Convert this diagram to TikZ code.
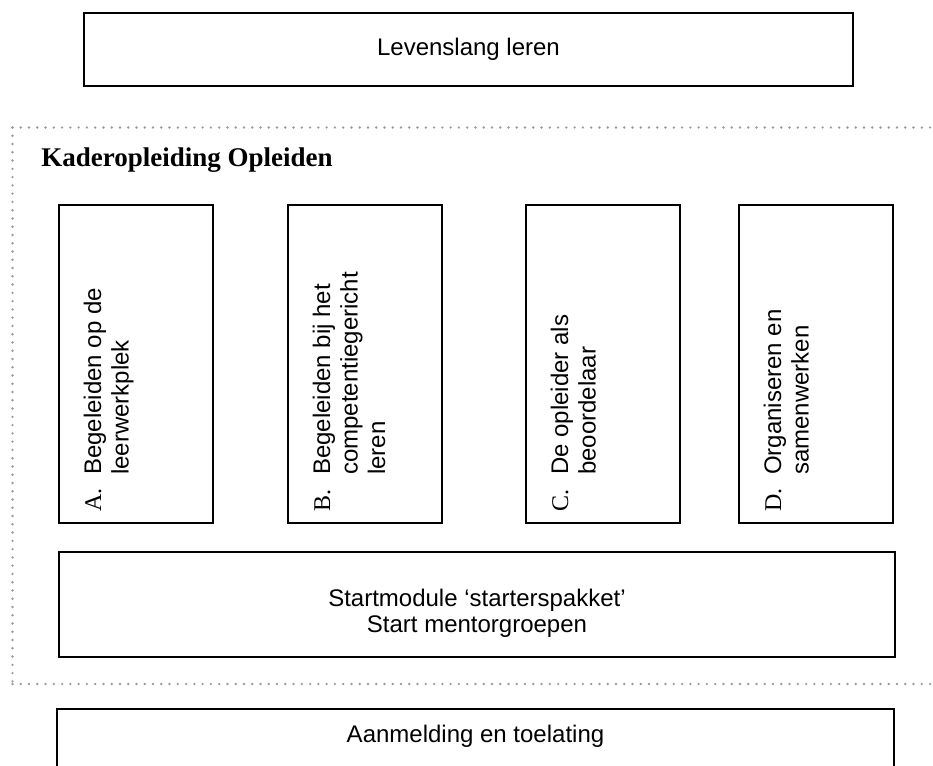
\documentclass[tikz,border=0pt]{standalone}
\usepackage{fontspec}
\setmainfont{Liberation Sans}
\newfontfamily\timesf{Liberation Serif}
\usetikzlibrary{fit}
\definecolor{dotgray}{RGB}{155,155,155}
\tikzset{
  box/.style={draw=black, line width=1.2pt, inner sep=0pt, fill=none},
  thickbox/.style={draw=black, line width=1.7pt, inner sep=0pt},
  txt/.style={inner sep=0pt, font=\fontsize{18}{20.7}\selectfont},
  rtext/.style={txt, rotate=90, anchor=base west},
  heading/.style={inner sep=0pt, anchor=base west, font=\timesf\bfseries\fontsize{20.25}{23}\selectfont},
  dotline/.style={draw=dotgray, line width=2pt, line cap=round, dash pattern=on 0pt off 6.2pt}
}
\begin{document}
\begin{tikzpicture}[x=0.75pt,y=-0.75pt]
\useasboundingbox (0,0) rectangle (933,765);
% top box
\node[thickbox, fit={(84,13) (853,86)}] (top) {};
\node[txt] (toptext) at (top.center) {Levenslang leren};
% dotted frame
\coordinate (f1) at (933,127.5);
\coordinate (f2) at (12.5,127.5);
\coordinate (f3) at (12.5,684);
\coordinate (f4) at (933,684);
\draw[dotline] (f2) -- (f1);
\draw[dotline] (f2) -- (f3);
\draw[dotline] (f3) -- (f4);
\node[heading] (head) at (41,166) {Kaderopleiding Opleiden};
% four vertical boxes
\node[box, fit={(59,205) (213,523)}] (A) {};
\node[box, fit={(288,205) (442,523)}] (B) {};
\node[box, fit={(526,205) (680,523)}] (C) {};
\node[box, fit={(739,205) (893,523)}] (D) {};
% box A
\node[rtext] (A0) at (101,512) {\timesf A.};
\node[rtext] (A1) at (101,475) {Begeleiden op de};
\node[rtext] (A2) at (128.6,475) {leerwerkplek};
% box B
\node[rtext] (B0) at (330,512) {\timesf B.};
\node[rtext] (B1) at (330,475) {Begeleiden bij het};
\node[rtext] (B2) at (357.6,475) {competentiegericht};
\node[rtext] (B3) at (385.2,475) {leren};
% box C
\node[rtext] (C0) at (568,512) {\timesf C.};
\node[rtext] (C1) at (568,475) {De opleider als};
\node[rtext] (C2) at (595.6,475) {beoordelaar};
% box D
\node[rtext] (D0) at (781,512) {\timesf D.};
\node[rtext] (D1) at (781,475) {Organiseren en};
\node[rtext] (D2) at (808.6,475) {samenwerken};
% start module box
\node[box, fit={(59,552) (895,657)}] (S) {};
\node[txt, anchor=base] (S1) at (477,606) {Startmodule ‘starterspakket’};
\node[txt, anchor=base] (S2) at (477,632) {Start mentorgroepen};
% bottom box (runs off the page)
\node[box, fit={(57,709) (894,800)}] (E) {};
\node[txt, anchor=base] (E1) at (475.5,742) {Aanmelding en toelating};
\end{tikzpicture}
\end{document}
